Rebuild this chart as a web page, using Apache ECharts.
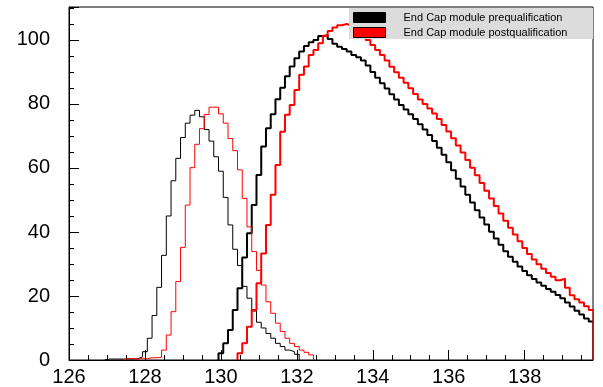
<!DOCTYPE html>
<html>
<head>
<meta charset="utf-8">
<script src="https://cdn.jsdelivr.net/npm/echarts@6/dist/echarts.min.js"></script>
<style>
html,body{margin:0;padding:0;background:#fff;}
#chart{width:603px;height:387px;}
</style>
</head>
<body>
<div id="chart"></div>
<script>
// Histogram binning (bin low edges = BIN_LOW + k*BIN_WIDTH)
const BIN_LOW = 126.0625;
const BIN_WIDTH = 0.125;

const NAME_PRE = 'End Cap module prequalification';
const NAME_POST = 'End Cap module postqualification';

// Narrow peaks (thin lines)
const preNarrowStart = 7;
const preNarrow = [0.3,0.3,0.3,0.3,0.3,0.3,0.4,1.0,2.6,6.8,13.9,22.7,32.7,45,56,63,69.5,74,76.5,78,76,72,68.4,63.5,59,50.8,42.2,34.6,29.5,23,19.3,15.3,11.8,10,8.3,6.8,5.2,4.2,3.1,2.6,1.8];

const postNarrowStart = 11;
const postNarrow = [0.5,0.4,0.2,0.6,0.4,0.7,0.7,0.8,3.1,7.8,15.1,24.5,35.2,48.4,60.1,67.4,72.3,76.7,79,79,76.9,74,69.2,65.4,59.4,50.5,41.6,33.9,28,23.4,18.2,14.6,11.5,8.9,6.8,5.2,4.2,3.1,2.4,1.6];

// Broad peaks (thick lines)
const preBroadStart = 31;
const preBroad = [2.1,5.2,9.4,15.6,22.4,32,39.6,48.4,57.8,66.7,72.4,76.8,81.5,85.1,88.7,91.7,94.3,96.4,98.1,99.3,100,101.2,101.5,100.3,98.8,97.9,97.2,96.4,95.3,94.6,93.6,92,90,88.2,86.5,84.8,83,81.4,79.7,78.3,76.8,75.3,73.7,72,70.3,68.4,66.3,64.1,61.8,59.3,56.6,54.2,51.6,49.2,46.8,44.5,42.3,40.1,38,36,34,32.3,30.7,29.2,27.8,26.5,25.3,24.2,23.2,22.2,21.3,20.3,19.3,18,16.7,15.4,14.2,13,12];

const postBroadStart = 35;
const postBroad = [2.1,5.2,10.4,15.6,24,33.3,42.2,51.6,60.9,71.3,76.6,79.7,84.4,89.1,91.7,95.3,96.9,99,101.3,102.8,103.9,104.6,105,104.5,103.8,102.8,101.5,100,98.4,96.9,95.3,93.6,91.6,89.9,88.2,86.6,84.9,83.1,81.4,80,78.6,77,75.3,73.4,71.4,69.3,67,64.8,62.5,60.1,57.7,55.3,52.9,50.5,48.1,45.8,43.5,41.3,39.2,37.1,35,33.1,31.4,29.9,28.5,27.2,26,24.9,25.4,22.6,20.2,19,18,16.8,15.6];

// Axis ticks
const xMin = 126, xMax = 139.8, xMajor = 2, xMinor = 0.5;
const yMin = 0, yMax = 110.3, yMajor = 20, yMinor = 5;

function stepData(startBin, values) {
  const pts = [[BIN_LOW + startBin * BIN_WIDTH, 0]];
  values.forEach((v, i) => pts.push([BIN_LOW + (startBin + i) * BIN_WIDTH, v]));
  pts.push([BIN_LOW + (startBin + values.length) * BIN_WIDTH, 0]);
  return pts;
}

function isMultiple(v, step) {
  const r = v / step;
  return Math.abs(r - Math.round(r)) < 1e-6;
}

const FONT = 'Liberation Sans, Arial, Helvetica, sans-serif';

function histSeries(name, color, width, start, vals) {
  return {
    name: name, type: 'line', step: 'end', showSymbol: false, symbol: 'none',
    data: stepData(start, vals), xAxisIndex: 0, yAxisIndex: 0,
    lineStyle: { color: color, width: width }, itemStyle: { color: color },
    animation: false, silent: true
  };
}

const chart = echarts.init(document.getElementById('chart'), null, { renderer: 'canvas' });
chart.setOption({
  animation: false,
  backgroundColor: '#fff',
  grid: { left: 69, right: 10, top: 7, bottom: 27, show: true, borderColor: '#000', borderWidth: 1, backgroundColor: 'transparent' },
  xAxis: [
    {
      type: 'value', min: xMin, max: xMax, interval: xMajor, position: 'bottom',
      axisLine: { show: true, lineStyle: { color: '#000', width: 1 } },
      axisTick: { show: true, inside: true, length: 10, lineStyle: { color: '#000', width: 1 } },
      splitLine: { show: false },
      axisLabel: { color: '#000', fontSize: 20, fontFamily: FONT, margin: 7,
        formatter: v => isMultiple(v, xMajor) ? String(v) : '' }
    },
    {
      type: 'value', min: xMin, max: xMax, interval: xMinor, position: 'bottom',
      axisLine: { show: false },
      axisTick: { show: true, inside: true, length: 5, lineStyle: { color: '#000', width: 1 } },
      splitLine: { show: false }, axisLabel: { show: false }
    }
  ],
  yAxis: [
    {
      type: 'value', min: yMin, max: yMax, interval: yMajor, position: 'left',
      axisLine: { show: true, lineStyle: { color: '#000', width: 1 } },
      axisTick: { show: true, inside: true, length: 10, lineStyle: { color: '#000', width: 1 } },
      splitLine: { show: false },
      axisLabel: { color: '#000', fontSize: 20, fontFamily: FONT, margin: 19,
        formatter: v => isMultiple(v, yMajor) ? String(v) : '' }
    },
    {
      type: 'value', min: yMin, max: yMax, interval: yMinor, position: 'left', offset: 0,
      axisLine: { show: false },
      axisTick: { show: true, inside: true, length: 5, lineStyle: { color: '#000', width: 1 } },
      splitLine: { show: false }, axisLabel: { show: false }
    }
  ],
  legend: {
    show: true, orient: 'vertical', left: 349, top: 8, z: 10,
    padding: [4, 4, 3, 4], itemGap: 4, itemWidth: 32, itemHeight: 10,
    selectedMode: false,
    textStyle: { fontSize: 11, fontFamily: FONT, color: '#000', padding: [0, 0, 0, 13], lineHeight: 10 },
    data: [
      { name: NAME_PRE, icon: 'rect', itemStyle: { color: '#000', borderColor: '#000', borderWidth: 1 } },
      { name: NAME_POST, icon: 'rect', itemStyle: { color: '#ff0000', borderColor: '#000', borderWidth: 1 } }
    ]
  },
  graphic: [
    { type: 'rect', left: 349, top: 8, z: 5, silent: true,
      shape: { width: 244, height: 31 }, style: { fill: '#dcdcdc', stroke: null } }
  ],
  series: [
    histSeries(NAME_PRE, '#000', 1, preNarrowStart, preNarrow),
    histSeries(NAME_PRE, '#000', 2, preBroadStart, preBroad),
    histSeries(NAME_POST, '#ff0000', 1, postNarrowStart, postNarrow),
    histSeries(NAME_POST, '#ff0000', 2, postBroadStart, postBroad)
  ]
});
</script>
</body>
</html>
